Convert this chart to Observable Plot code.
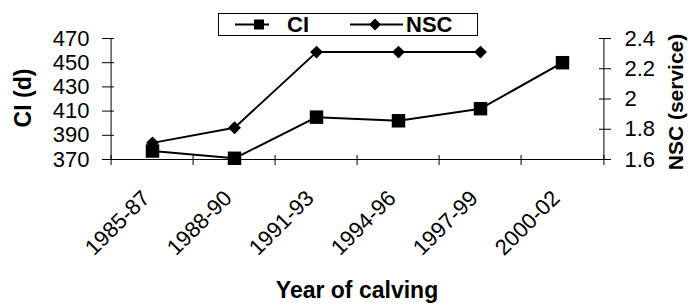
<!DOCTYPE html>
<html>
<head>
<meta charset="utf-8">
<script src="https://cdn.jsdelivr.net/npm/d3@7"></script>
<script src="https://cdn.jsdelivr.net/npm/@observablehq/plot@0.6"></script>
<style>
  body { margin: 0; background: white; }
  #wrap { position: relative; width: 690px; height: 304px; font-family: "Liberation Sans", Arial, sans-serif; }
  #legend { position: absolute; left: 218px; top: 13px; width: 258px; height: 21px; border: 1px solid black; background: white; }
  #legend svg { position: absolute; top: 0; }
  #legend span { position: absolute; top: 0; line-height: 21px; font-weight: bold; font-size: 22px; color: black; }
</style>
</head>
<body>
<div id="wrap">
  <div id="chart"></div>
  <div id="legend">
    <svg style="left:16px" width="34" height="21"><line x1="0" y1="10.5" x2="34" y2="10.5" stroke="black" stroke-width="2"/><rect x="19" y="5.5" width="10" height="10" fill="black"/></svg>
    <span style="left:68px">CI</span>
    <svg style="left:131px" width="53" height="21"><line x1="0" y1="10.5" x2="53" y2="10.5" stroke="black" stroke-width="2"/><path d="M25,4.5 L31,10.5 L25,16.5 L19,10.5 Z" fill="black"/></svg>
    <span style="left:187px">NSC</span>
  </div>
</div>
<script>
const categories = ["1985-87", "1988-90", "1991-93", "1994-96", "1997-99", "2000-02"];
const ciValues = [377, 371, 405, 402, 412, 450];
const nscCategories = ["1985-87", "1988-90", "1991-93", "1994-96", "1997-99"];
const nscValues = [1.71, 1.81, 2.31, 2.31, 2.31];
const ciTicks = [370, 390, 410, 430, 450, 470];
const nscTicks = [1.6, 1.8, 2, 2.2, 2.4];

// map right-axis (NSC) values onto the left (CI) scale
const toLeft = v => 370 + (v - 1.6) * 125;

const W = 690, H = 304, mL = 108, mR = 85, mT = 38, mB = 145;
const plotW = W - mL - mR, plotH = H - mT - mB;
const step = plotW / categories.length;

const ciData = categories.map((c, i) => ({c, v: ciValues[i]}));
const nscData = nscCategories.map((c, i) => ({c, v: toLeft(nscValues[i])}));

const chart = Plot.plot({
  width: W, height: H,
  marginLeft: mL, marginRight: mR, marginTop: mT, marginBottom: mB,
  x: {type: "point", domain: categories, padding: 0.5, axis: null},
  y: {domain: [370, 470], axis: null},
  style: {fontFamily: "'Liberation Sans', Arial, sans-serif", color: "black", background: "white", overflow: "visible"},
  marks: [
    // axis lines
    Plot.ruleX([categories[0]], {dx: -step / 2, stroke: "black", strokeWidth: 1}),
    Plot.ruleX([categories[categories.length - 1]], {dx: step / 2, stroke: "black", strokeWidth: 1}),
    Plot.ruleY([370], {stroke: "black", strokeWidth: 1}),
    // x separator ticks (crossing)
    Plot.ruleX(categories, {dx: -step / 2, insetTop: plotH - 4, insetBottom: -6, stroke: "black"}),
    Plot.ruleX([categories[categories.length - 1]], {dx: step / 2, insetTop: plotH - 4, insetBottom: -6, stroke: "black"}),
    // left y ticks
    Plot.ruleY(ciTicks, {insetLeft: -6, insetRight: plotW - 6, stroke: "black"}),
    // right y ticks
    Plot.ruleY(nscTicks.map(toLeft), {insetLeft: plotW - 6, insetRight: -6, stroke: "black"}),
    // tick labels
    Plot.text(ciTicks, {y: d => d, text: d => String(d), frameAnchor: "left", textAnchor: "end", lineAnchor: "middle", dx: -19, fontSize: 22, fill: "black"}),
    Plot.text(nscTicks, {y: d => toLeft(d), text: d => String(d), frameAnchor: "right", textAnchor: "start", lineAnchor: "middle", dx: 19, fontSize: 22, fill: "black"}),
    Plot.text(categories, {x: d => d, text: d => d, frameAnchor: "bottom", rotate: -45, textAnchor: "end", lineAnchor: "middle", dx: -6.3, dy: 35, fontSize: 22, fill: "black"}),
    // axis titles
    Plot.text(["CI (d)"], {text: d => d, frameAnchor: "left", rotate: -90, textAnchor: "middle", lineAnchor: "middle", dx: -85, dy: -1, fontSize: 23, fontWeight: "bold", fill: "black"}),
    Plot.text(["NSC (service)"], {text: d => d, frameAnchor: "right", rotate: -90, textAnchor: "middle", lineAnchor: "middle", dx: 71, dy: 3, fontSize: 21, fontWeight: "bold", fill: "black"}),
    Plot.text(["Year of calving"], {text: d => d, frameAnchor: "bottom", textAnchor: "middle", lineAnchor: "middle", dy: 131, fontSize: 23, fontWeight: "bold", fill: "black"}),
    // series
    Plot.line(ciData, {x: "c", y: "v", stroke: "black", strokeWidth: 2}),
    Plot.dot(ciData, {x: "c", y: "v", symbol: "square", r: 7.6, fill: "black", stroke: "none"}),
    Plot.line(nscData, {x: "c", y: "v", stroke: "black", strokeWidth: 2}),
    Plot.dot(nscData, {x: "c", y: "v", symbol: "diamond2", r: 5.8, fill: "black", stroke: "none"})
  ]
});
document.getElementById("chart").appendChild(chart);
</script>
</body>
</html>
